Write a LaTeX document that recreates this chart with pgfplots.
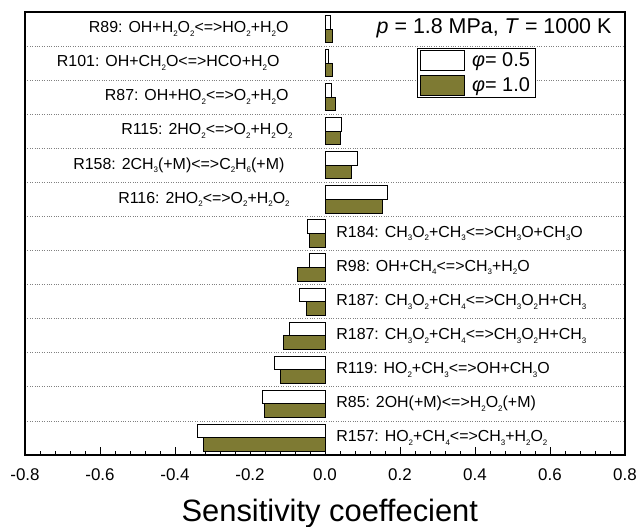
\documentclass[border=0pt]{standalone}
\usepackage{pgfplots}
\pgfplotsset{compat=1.18}
\usepackage{fontspec}
\setmainfont{Liberation Sans}
\definecolor{olivebar}{RGB}{126,122,51}
\newcommand{\sub}[1]{\raisebox{-0.45ex}{\fontsize{8}{8}\selectfont #1}}
\newcommand{\lab}{\fontsize{16}{16}\selectfont}
\begin{document}
\begin{tikzpicture}
\begin{axis}[
  at={(0,0)}, anchor=south west,
  scale only axis, width=600bp, height=443bp,
  xmin=-0.8, xmax=0.8, ymin=0.5, ymax=13.5,
  xbar, bar width=0.4,
  xtick={-0.8,-0.6,-0.4,-0.2,0,0.2,0.4,0.6,0.8},
  minor x tick num=4,
  xtick pos=left, tick align=inside,
  major tick length=8bp, minor tick length=4bp,
  every tick/.style={black, line width=1bp},
  xticklabel style={font=\fontsize{17}{17}\selectfont, anchor=base, yshift=-25bp,
    /pgf/number format/.cd, fixed, fixed zerofill, precision=1, assume math mode=true},
  ytick={1.5,2.5,3.5,4.5,5.5,6.5,7.5,8.5,9.5,10.5,11.5,12.5},
  yticklabels={},
  ytick style={draw=none},
  ymajorgrids,
  major grid style={gray, dotted, line width=0.8bp},
  axis line style={line width=1.5bp},
  xlabel={Sensitivity coeffecient},
  xlabel style={at={(axis description cs:0.508,0)}, anchor=base, yshift=-66bp,
    font=\fontsize{31}{31}\selectfont},
  legend style={at={(0.653,0.919)}, anchor=north west, draw=black, line width=0.8bp,
    font=\fontsize{20}{20}\selectfont, inner xsep=3bp, inner ysep=2bp, row sep=4bp,
    cells={anchor=west}},
  legend image code/.code={\draw[#1, line width=0.8bp] (0bp,-10bp) rectangle (44bp,10bp);
    \path (49bp,0bp);},
]
\addplot[fill=white, draw=black, line width=1bp, bar shift=0.2] coordinates {
 (0.015,13) (0.009,12) (0.018,11) (0.043,10) (0.087,9) (0.166,8)
 (-0.047,7) (-0.042,6) (-0.068,5) (-0.095,4) (-0.135,3) (-0.167,2) (-0.340,1)};
\addlegendentry{\textit{φ}= 0.5}
\addplot[fill=olivebar, draw=black, line width=1bp, bar shift=-0.2] coordinates {
 (0.020,13) (0.020,12) (0.029,11) (0.040,10) (0.071,9) (0.152,8)
 (-0.042,7) (-0.074,6) (-0.050,5) (-0.111,4) (-0.118,3) (-0.162,2) (-0.324,1)};
\addlegendentry{\textit{φ}= 1.0}

\node[anchor=east, font=\lab] at (axis cs:-0.088,13) {R89: OH+H\sub2O\sub2<=>HO\sub2+H\sub2O};
\node[anchor=east, font=\lab] at (axis cs:-0.112,12) {R101: OH+CH\sub2O<=>HCO+H\sub2O};
\node[anchor=east, font=\lab] at (axis cs:-0.088,11) {R87: OH+HO\sub2<=>O\sub2+H\sub2O};
\node[anchor=east, font=\lab] at (axis cs:-0.077,10) {R115: 2HO\sub2<=>O\sub2+H\sub2O\sub2};
\node[anchor=east, font=\lab] at (axis cs:-0.099,9) {R158: 2CH\sub3(+M)<=>C\sub2H\sub6(+M)};
\node[anchor=east, font=\lab] at (axis cs:-0.085,8) {R116: 2HO\sub2<=>O\sub2+H\sub2O\sub2};
\node[anchor=west, font=\lab] at (axis cs:0.021,7) {R184: CH\sub3O\sub2+CH\sub3<=>CH\sub3O+CH\sub3O};
\node[anchor=west, font=\lab] at (axis cs:0.021,6) {R98: OH+CH\sub4<=>CH\sub3+H\sub2O};
\node[anchor=west, font=\lab] at (axis cs:0.021,5) {R187: CH\sub3O\sub2+CH\sub4<=>CH\sub3O\sub2H+CH\sub3};
\node[anchor=west, font=\lab] at (axis cs:0.021,4) {R187: CH\sub3O\sub2+CH\sub4<=>CH\sub3O\sub2H+CH\sub3};
\node[anchor=west, font=\lab] at (axis cs:0.021,3) {R119: HO\sub2+CH\sub3<=>OH+CH\sub3O};
\node[anchor=west, font=\lab] at (axis cs:0.021,2) {R85: 2OH(+M)<=>H\sub2O\sub2(+M)};
\node[anchor=west, font=\lab] at (axis cs:0.021,1) {R157: HO\sub2+CH\sub4<=>CH\sub3+H\sub2O\sub2};
\node[anchor=east, font=\fontsize{21.5}{22}\selectfont] at (axis cs:0.773,13.03) {\textit{p} = 1.8 MPa, \textit{T} = 1000 K};
\end{axis}
\pgfresetboundingbox
\path (-25bp,-72bp) rectangle (611bp,455bp);
\end{tikzpicture}
\end{document}
